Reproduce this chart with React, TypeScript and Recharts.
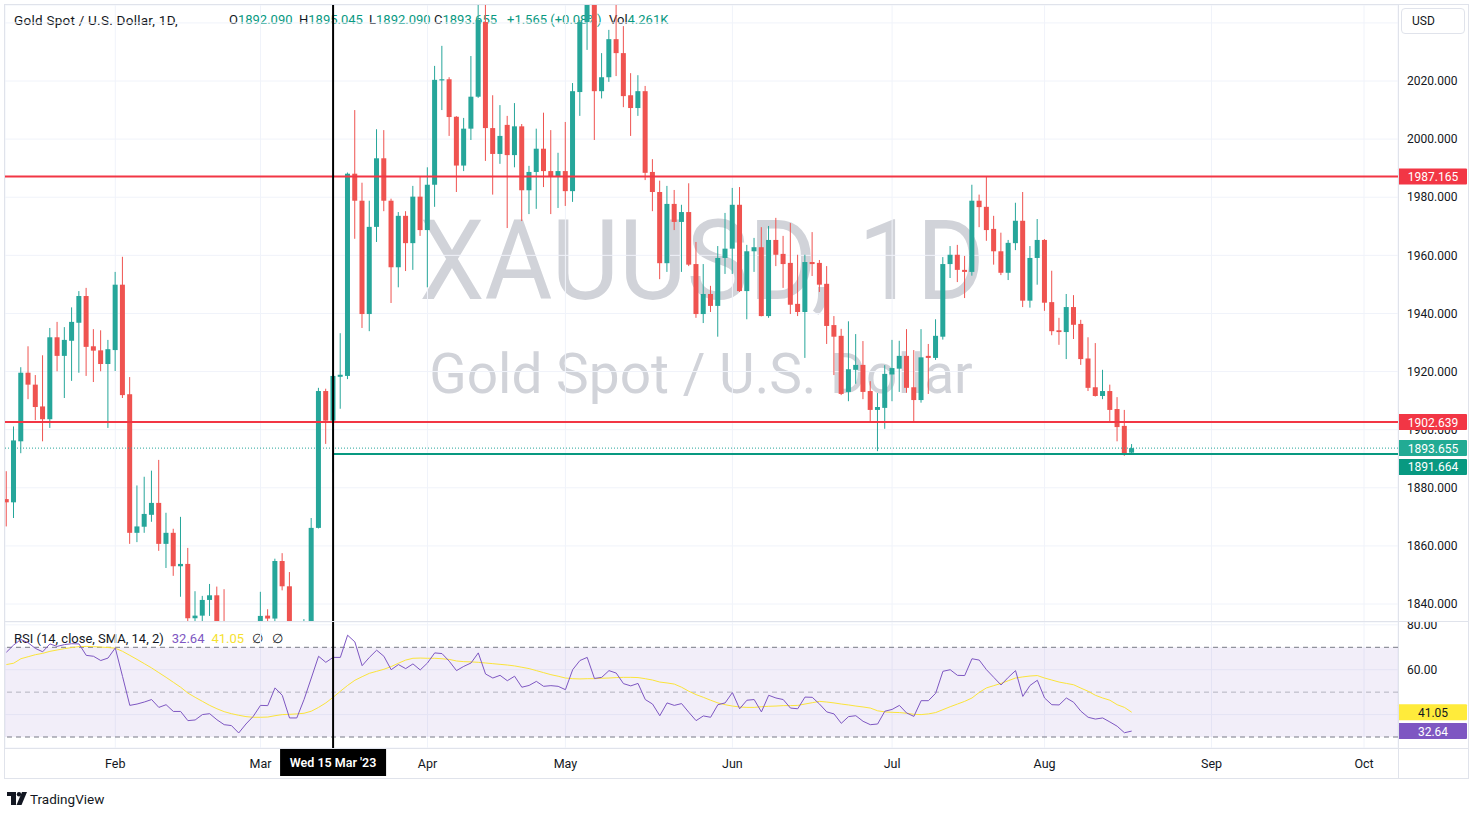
import React from "react";
import {
  ComposedChart,
  Bar,
  Line,
  XAxis,
  YAxis,
  CartesianGrid,
  ReferenceLine,
  ReferenceArea,
} from "recharts";

// daily candles, Jan 11 2023 .. Aug 17 2023 (weekdays), [open, high, low, close]
const candles: [number, number, number, number][] = [
  [1876.1, 1885.7, 1866.7, 1875.0], [1875.0, 1901.1, 1869.6, 1896.3], [1896.0, 1921.5, 1891.9, 1919.6],
  [1919.6, 1928.7, 1910.5, 1915.5], [1915.5, 1918.8, 1903.3, 1907.8], [1908.0, 1925.6, 1896.0, 1903.6],
  [1903.6, 1935.0, 1900.6, 1931.8], [1931.8, 1937.1, 1920.1, 1925.4], [1925.4, 1935.3, 1910.9, 1930.9],
  [1930.6, 1942.1, 1916.8, 1937.1], [1936.8, 1947.7, 1919.6, 1946.0], [1946.0, 1948.8, 1918.5, 1928.5],
  [1928.7, 1934.6, 1916.4, 1927.2], [1927.3, 1934.2, 1920.1, 1922.6], [1922.6, 1930.9, 1900.6, 1927.7],
  [1927.4, 1954.3, 1920.2, 1949.9], [1949.9, 1959.5, 1910.9, 1911.9], [1912.2, 1918.1, 1860.7, 1864.5],
  [1864.5, 1880.8, 1861.3, 1866.7], [1866.6, 1883.8, 1864.5, 1871.0], [1870.7, 1885.9, 1868.3, 1874.8],
  [1874.8, 1889.6, 1858.3, 1860.7], [1860.7, 1871.4, 1852.4, 1864.5], [1864.5, 1865.9, 1849.7, 1853.0],
  [1853.0, 1870.0, 1842.5, 1853.8], [1853.8, 1859.3, 1831.0, 1835.1], [1835.1, 1844.4, 1829.0, 1836.0],
  [1836.0, 1842.8, 1819.7, 1841.4], [1841.4, 1846.9, 1835.9, 1843.0], [1843.0, 1846.0, 1832.0, 1834.0],
  [1834.0, 1845.1, 1818.0, 1825.0], [1825.0, 1828.0, 1817.0, 1823.0], [1823.0, 1827.0, 1809.0, 1811.0],
  [1811.0, 1820.0, 1805.0, 1817.0], [1817.0, 1830.0, 1813.0, 1827.0], [1827.0, 1844.2, 1826.0, 1835.9],
  [1836.0, 1838.2, 1830.0, 1835.0], [1835.0, 1855.6, 1833.5, 1854.8], [1854.8, 1857.5, 1844.7, 1846.1],
  [1846.1, 1851.0, 1812.0, 1813.5], [1813.5, 1822.0, 1809.0, 1814.5], [1814.5, 1834.8, 1810.0, 1831.0],
  [1831.0, 1869.6, 1819.0, 1866.2], [1866.2, 1914.4, 1866.0, 1913.3], [1913.3, 1914.1, 1895.1, 1903.1],
  [1903.1, 1937.5, 1885.2, 1918.5], [1918.2, 1933.2, 1907.2, 1918.9], [1918.5, 1988.5, 1917.4, 1988.1],
  [1988.1, 2010.0, 1965.7, 1978.8], [1978.8, 1985.0, 1935.0, 1939.8], [1939.8, 1978.8, 1933.9, 1969.8],
  [1969.8, 2003.4, 1964.6, 1993.4], [1993.4, 2003.1, 1975.2, 1978.8], [1978.8, 1979.5, 1943.6, 1955.9],
  [1955.9, 1974.9, 1949.0, 1973.6], [1973.6, 1975.2, 1954.6, 1964.2], [1964.2, 1983.9, 1955.0, 1980.2],
  [1980.2, 1987.3, 1966.7, 1968.7], [1968.7, 1990.3, 1949.0, 1984.3], [1984.3, 2025.2, 1976.7, 2020.4],
  [2020.2, 2032.1, 2010.0, 2020.6], [2020.6, 2021.3, 2001.1, 2007.6], [2007.7, 2007.9, 1981.8, 1990.9],
  [1990.9, 2007.3, 1989.0, 2003.6], [2003.6, 2028.6, 1999.7, 2014.6], [2014.6, 2048.0, 2014.2, 2041.0],
  [2040.3, 2048.5, 1992.5, 2003.8], [2003.8, 2015.1, 1980.9, 1994.9], [1994.9, 2011.7, 1991.5, 2001.1],
  [2004.9, 2008.0, 1969.4, 1994.5], [1994.5, 2012.4, 1990.3, 2004.4], [2004.4, 2005.2, 1971.8, 1982.4],
  [1982.4, 1990.8, 1974.2, 1988.7], [1988.7, 2003.6, 1976.0, 1996.7], [1996.7, 2009.1, 1983.5, 1989.0],
  [1989.0, 2003.1, 1974.2, 1987.3], [1987.3, 1995.3, 1976.3, 1989.0], [1989.0, 2005.9, 1977.0, 1982.1],
  [1982.1, 2019.3, 1978.4, 2016.5], [2016.2, 2041.0, 2008.0, 2040.3], [2040.3, 2072.0, 2030.7, 2050.0],
  [2050.0, 2065.0, 1999.7, 2016.5], [2016.5, 2029.6, 2014.0, 2021.3], [2021.3, 2037.6, 2019.7, 2034.4],
  [2034.4, 2048.0, 2021.7, 2029.6], [2029.6, 2038.9, 2011.0, 2014.8], [2015.1, 2022.7, 2001.1, 2010.7],
  [2010.7, 2022.0, 2008.0, 2016.5], [2016.5, 2018.3, 1985.9, 1988.4], [1988.7, 1993.1, 1975.2, 1981.8],
  [1981.8, 1985.7, 1951.8, 1957.3], [1957.3, 1983.9, 1954.3, 1977.7], [1977.7, 1982.5, 1968.7, 1971.5],
  [1971.5, 1977.4, 1954.3, 1974.9], [1974.9, 1984.8, 1956.3, 1956.8], [1957.0, 1964.6, 1938.5, 1939.8],
  [1939.8, 1957.0, 1936.7, 1946.7], [1946.7, 1949.5, 1940.5, 1942.6], [1942.6, 1963.2, 1932.0, 1959.1],
  [1959.1, 1974.6, 1953.6, 1962.3], [1962.3, 1983.2, 1953.6, 1977.4], [1977.4, 1983.5, 1947.4, 1947.7],
  [1947.7, 1963.6, 1938.0, 1961.4], [1961.4, 1966.0, 1954.3, 1962.8], [1962.8, 1969.7, 1939.0, 1939.1],
  [1939.1, 1970.1, 1938.5, 1965.3], [1965.3, 1972.9, 1956.3, 1960.2], [1960.5, 1966.7, 1948.8, 1957.0],
  [1957.4, 1971.1, 1939.8, 1943.0], [1943.3, 1960.2, 1939.1, 1940.5], [1940.5, 1960.2, 1924.7, 1957.7],
  [1957.7, 1968.0, 1952.9, 1957.0], [1957.4, 1958.4, 1947.4, 1949.9], [1950.2, 1956.3, 1929.5, 1935.7],
  [1936.0, 1939.1, 1918.8, 1932.0], [1932.3, 1934.7, 1911.9, 1912.3], [1913.0, 1937.3, 1909.8, 1920.8],
  [1920.6, 1932.9, 1915.8, 1922.3], [1922.3, 1930.5, 1910.5, 1913.0], [1913.3, 1916.7, 1902.4, 1906.8],
  [1906.8, 1912.6, 1892.6, 1907.8], [1907.5, 1922.2, 1900.3, 1919.2], [1919.0, 1930.9, 1909.8, 1921.2],
  [1921.0, 1930.6, 1913.0, 1925.4], [1925.4, 1934.6, 1912.7, 1914.4], [1914.6, 1927.4, 1902.4, 1910.2],
  [1910.2, 1934.6, 1909.3, 1924.9], [1925.4, 1929.5, 1912.3, 1924.7], [1924.7, 1938.0, 1924.0, 1932.3],
  [1932.0, 1959.4, 1931.0, 1957.0], [1957.0, 1963.2, 1952.2, 1960.2], [1960.2, 1963.6, 1950.8, 1955.0],
  [1955.0, 1959.8, 1945.3, 1954.3], [1954.3, 1984.3, 1953.0, 1978.8], [1978.8, 1980.9, 1969.7, 1976.6],
  [1976.7, 1987.3, 1965.0, 1968.7], [1969.1, 1973.6, 1956.8, 1961.4], [1961.4, 1967.8, 1953.2, 1954.0],
  [1954.0, 1965.3, 1951.5, 1964.3], [1964.2, 1978.1, 1961.8, 1971.9], [1971.9, 1981.8, 1942.2, 1944.4],
  [1944.4, 1963.2, 1942.0, 1959.1], [1959.1, 1972.5, 1949.9, 1965.3], [1965.3, 1965.6, 1940.9, 1943.7],
  [1943.9, 1954.7, 1932.5, 1933.9], [1934.2, 1938.5, 1929.2, 1933.6], [1933.6, 1946.7, 1924.3, 1942.2],
  [1942.2, 1946.3, 1931.2, 1936.1], [1936.4, 1937.8, 1922.3, 1924.3], [1924.5, 1931.8, 1913.3, 1914.4],
  [1914.6, 1929.8, 1911.4, 1911.6], [1911.6, 1920.6, 1910.5, 1913.3], [1913.3, 1915.5, 1902.6, 1906.8],
  [1907.1, 1911.2, 1896.0, 1900.9], [1901.3, 1906.8, 1891.0, 1891.66], [1892.09, 1895.045, 1891.9, 1893.655],
];

// RSI(14) per candle
const rsiValues = [
  67.8, 71.0, 73.5, 72.0, 69.5, 68.0, 71.5, 70.4, 71.2, 71.6, 71.5, 66.4, 66.0, 64.1, 65.2, 69.7,
  57.0, 44.1, 44.7, 45.6, 46.7, 43.2, 44.4, 41.4, 41.4, 37.3, 37.6, 40.0, 40.4, 37.7, 35.5, 35.1,
  31.8, 35.8, 39.2, 44.1, 44.0, 51.9, 48.6, 38.5, 38.5, 46.7, 56.3, 66.0, 63.3, 65.5, 65.5, 75.4,
  72.4, 61.8, 65.5, 68.7, 66.0, 60.0, 62.3, 60.5, 62.6, 59.9, 63.0, 67.5, 67.2, 63.8, 59.6, 61.5,
  63.0, 67.5, 58.1, 56.3, 57.5, 55.1, 57.1, 52.2, 53.0, 54.8, 52.6, 52.9, 52.6, 51.1, 60.0, 64.1,
  65.5, 56.1, 56.6, 59.6, 58.5, 53.8, 52.8, 53.9, 46.7, 44.7, 39.5, 45.2, 44.1, 44.9, 41.0, 37.3,
  39.4, 38.8, 44.4, 45.2, 49.8, 42.6, 46.4, 46.7, 41.2, 48.6, 47.4, 46.7, 42.9, 42.6, 47.8, 47.7,
  44.7, 41.2, 40.3, 36.1, 39.1, 39.5, 37.0, 35.5, 35.8, 41.5, 42.3, 44.1, 40.7, 39.2, 46.2, 46.2,
  49.5, 59.3, 60.0, 57.5, 57.4, 64.9, 64.3, 60.0, 56.6, 53.2, 56.6, 59.6, 48.1, 53.0, 55.3, 47.4,
  44.4, 44.3, 47.4, 45.5, 41.5, 38.8, 38.0, 38.5, 36.7, 34.8, 31.9, 32.64,
];

// RSI-based SMA(14)
const rsiMa = [
  62.3, 62.9, 64.9, 65.8, 66.7, 67.3, 68.2, 68.8, 69.4, 69.9, 70.3, 70.4, 70.3, 70.1, 69.9, 69.6,
  68.2, 66.4, 64.6, 62.7, 60.8, 58.7, 56.6, 54.4, 52.2, 49.6, 47.7, 45.9, 44.1, 42.6, 41.3, 40.4,
  39.7, 39.1, 38.8, 38.8, 38.9, 39.5, 40.0, 40.1, 40.3, 40.6, 41.5, 43.2, 45.2, 47.7, 50.4, 53.0,
  55.3, 56.9, 58.4, 59.3, 60.2, 61.4, 62.9, 64.3, 65.1, 65.2, 65.1, 65.1, 64.9, 64.6, 63.9, 63.6,
  63.5, 63.3, 63.0, 62.7, 62.4, 62.1, 61.7, 61.1, 60.5, 59.6, 58.7, 57.8, 57.1, 56.3, 56.0, 55.9,
  56.0, 56.0, 56.2, 56.3, 56.5, 56.6, 56.6, 56.5, 56.0, 55.4, 54.5, 54.1, 53.6, 52.2, 50.4, 48.9,
  47.7, 46.4, 45.2, 44.4, 43.8, 43.4, 43.2, 43.2, 43.5, 43.7, 43.8, 44.0, 44.0, 44.1, 44.7, 45.3,
  45.9, 45.6, 45.2, 44.7, 44.3, 43.8, 43.4, 42.9, 41.7, 41.2, 41.0, 40.9, 40.6, 40.1, 40.0, 40.3,
  40.9, 42.2, 43.5, 44.7, 45.9, 47.4, 49.9, 51.9, 52.9, 53.9, 55.1, 56.3, 56.8, 57.2, 57.4, 56.3,
  55.4, 54.5, 53.9, 53.3, 51.8, 50.4, 48.6, 47.4, 46.4, 44.4, 43.2, 41.05,
];

const monthTickIndex = [15, 35, 58, 77, 100, 122, 143, 166, 187];
const monthTickLabels = ["Feb", "Mar", "Apr", "May", "Jun", "Jul", "Aug", "Sep", "Oct"];
const priceTicks = [1840, 1860, 1880, 1900, 1920, 1940, 1960, 1980, 2000, 2020, 2040];
const rsiTicks = [40, 60, 80];
const resistance = 1987.165;
const support = 1902.639;
const lastPrice = 1893.655;
const anchorLevel = 1891.664;
const lastRsi = 32.64;
const lastRsiMa = 41.05;
const crosshairIndex = 45;
const crosshairLabel = "Wed 15 Mar '23";

const X_DOMAIN: [number, number] = [-0.19, 191.68];
const P_DOMAIN: [number, number] = [1833.81, 2046.16];
const R_DOMAIN: [number, number] = [25.1, 81.28];

const GREEN = "#26a69a";
const RED = "#ef5350";
const TEXT = "#131722";
const GRID = "#f0f3fa";
const BORDER = "#e0e3eb";
const FONT = "Roboto, 'Liberation Sans', sans-serif";

const data = candles.map(([o, h, l, c], i) => ({
  i,
  o,
  h,
  l,
  c,
  range: [l, h],
  rsi: rsiValues[i],
  ma: rsiMa[i],
}));

const Candle = (props: any) => {
  const { x, y, width, height, payload } = props;
  const { o, h, l, c } = payload;
  const top = Math.min(y, y + height);
  const hgt = Math.abs(height);
  const k = hgt / (h - l);
  const cx = x + width / 2;
  const bTop = top + (h - Math.max(o, c)) * k;
  const bBot = top + (h - Math.min(o, c)) * k;
  const color = c >= o ? GREEN : RED;
  return (
    <g>
      <line x1={cx} x2={cx} y1={top} y2={top + hgt} stroke={color} strokeWidth={1} />
      <rect x={cx - 2.5} y={bTop} width={5} height={Math.max(1, bBot - bTop)} fill={color} />
    </g>
  );
};

const PriceTag = (props: any) => {
  const { viewBox, text, bg, color, dy = 0 } = props;
  if (!viewBox) return null;
  const { x, y, width } = viewBox;
  const left = x + width;
  return (
    <g>
      <rect x={left} y={y - 8 + dy} width={69} height={16} fill={bg} rx={1} />
      <text x={left + 35} y={y + 4.5 + dy} fill={color} fontSize={12} textAnchor="middle" fontFamily={FONT}>
        {text}
      </text>
    </g>
  );
};

const CrosshairTag = (props: any) => {
  const { viewBox } = props;
  if (!viewBox) return null;
  const { x, y, height } = viewBox;
  return (
    <g>
      <rect x={x - 53} y={y + height + 1} width={106} height={27} fill="#000" />
      <text x={x} y={y + height + 19} fill="#fff" fontSize={12.5} fontWeight={600} textAnchor="middle" fontFamily={FONT}>
        {crosshairLabel}
      </text>
    </g>
  );
};

const abs = (s: React.CSSProperties): React.CSSProperties => ({ position: "absolute", ...s });

const headerItems: [string, string, number][] = [
  ["O", "1892.090", 229],
  ["H", "1895.045", 299],
  ["L", "1892.090", 369],
  ["C", "1893.655", 434],
  ["", "+1.565 (+0.08%)", 507],
  ["Vol", "4.261K", 609],
];

export default function App() {
  return (
    <div style={abs({ left: 0, top: 0, width: 1481, height: 818, background: "#fff", fontFamily: FONT, color: TEXT, overflow: "hidden" })}>
      {/* watermark */}
      <div style={abs({ left: 702, top: 196, transform: "translateX(-50%) scaleX(0.93)", fontSize: 112, lineHeight: "130px", color: "#d1d3d9", whiteSpace: "nowrap", fontFamily: "Roboto, sans-serif" })}>
        XAUUSD, 1D
      </div>
      <div style={abs({ left: 701, top: 339, transform: "translateX(-50%)", fontSize: 55, lineHeight: "70px", color: "#d1d3d9", whiteSpace: "nowrap", fontFamily: "Roboto, sans-serif" })}>
        Gold Spot / U.S. Dollar
      </div>

      {/* header legend */}
      <div style={abs({ left: 14, top: 12, fontSize: 13.5, letterSpacing: 0.25, lineHeight: "16px", whiteSpace: "nowrap" })}>
        Gold Spot / U.S. Dollar, 1D,
      </div>
      {headerItems.map(([k, v, left]) => (
        <div key={left} style={abs({ left, top: 12, fontSize: 13, lineHeight: "16px", whiteSpace: "nowrap" })}>
          <span style={{ color: TEXT }}>{k}</span>
          <span style={{ color: "#089981" }}>{v}</span>
        </div>
      ))}

      {/* RSI legend */}
      <div style={abs({ left: 14, top: 631, fontSize: 13, lineHeight: "16px", whiteSpace: "nowrap" })}>
        <span>RSI (14, close, SMA, 14, 2)</span>
        <span style={{ color: "#7e57c2", marginLeft: 8 }}>32.64</span>
        <span style={{ color: "#f5e131", marginLeft: 7 }}>41.05</span>
        <span style={{ marginLeft: 8 }}>∅</span>
        <span style={{ marginLeft: 9 }}>∅</span>
      </div>

      {/* price pane */}
      <div style={abs({ left: 0, top: 0 })}>
        <ComposedChart width={1481} height={622} data={data} margin={{ top: 5, right: 13, bottom: 0, left: 5 }}>
          <CartesianGrid stroke={GRID} />
          <XAxis dataKey="i" type="number" domain={X_DOMAIN} ticks={monthTickIndex} allowDataOverflow hide />
          <YAxis
            orientation="right"
            domain={P_DOMAIN}
            ticks={priceTicks}
            allowDataOverflow
            width={70}
            axisLine={false}
            tickLine={false}
            tickSize={6}
            tickMargin={3}
            interval={0}
            tick={{ fill: TEXT, fontSize: 12 }}
            tickFormatter={(v: number) => (v === 2040 ? "" : v.toFixed(3))}
          />
          <ReferenceLine y={lastPrice} stroke={GREEN} strokeDasharray="1 2" strokeWidth={1} />
          <ReferenceLine y={resistance} stroke="#f23645" strokeWidth={2} />
          <ReferenceLine y={support} stroke="#f23645" strokeWidth={2} />
          <ReferenceLine
            segment={[
              { x: crosshairIndex, y: anchorLevel },
              { x: X_DOMAIN[1], y: anchorLevel },
            ]}
            stroke="#089981"
            strokeWidth={2}
          />
          <Bar dataKey="range" shape={Candle} barSize={5} isAnimationActive={false} />
          <ReferenceLine x={crosshairIndex} stroke="#000" strokeWidth={2} />
        </ComposedChart>
      </div>

      {/* price tags overlay (above axis text) */}
      <div style={abs({ left: 0, top: 0, pointerEvents: "none" })}>
        <ComposedChart width={1481} height={622} data={data} margin={{ top: 5, right: 83, bottom: 0, left: 5 }}>
          <XAxis dataKey="i" type="number" domain={X_DOMAIN} allowDataOverflow hide />
          <YAxis domain={P_DOMAIN} allowDataOverflow hide />
          <ReferenceLine y={resistance} stroke="none" label={<PriceTag text="1987.165" bg="#f23645" color="#fff" />} />
          <ReferenceLine y={support} stroke="none" label={<PriceTag text="1902.639" bg="#f23645" color="#fff" />} />
          <ReferenceLine y={lastPrice} stroke="none" label={<PriceTag text="1893.655" bg="#22ab94" color="#fff" />} />
          <ReferenceLine y={anchorLevel} stroke="none" label={<PriceTag text="1891.664" bg="#089981" color="#fff" dy={13} />} />
        </ComposedChart>
      </div>

      {/* RSI pane + time axis */}
      <div style={abs({ left: 0, top: 622 })}>
        <ComposedChart width={1481} height={157} data={data} margin={{ top: 0, right: 13, bottom: 0, left: 5 }}>
          <ReferenceArea y1={30} y2={70} fill="#7e57c2" fillOpacity={0.1} stroke="none" />
          <CartesianGrid stroke={GRID} />
          <XAxis
            dataKey="i"
            type="number"
            domain={X_DOMAIN}
            ticks={monthTickIndex}
            allowDataOverflow
            interval={0}
            height={31}
            axisLine={false}
            tickLine={false}
            tickMargin={5}
            tick={{ fill: TEXT, fontSize: 12.5 }}
            tickFormatter={(v: number) => monthTickLabels[monthTickIndex.indexOf(v)] ?? ""}
          />
          <YAxis
            orientation="right"
            domain={R_DOMAIN}
            ticks={rsiTicks}
            allowDataOverflow
            width={70}
            axisLine={false}
            tickLine={false}
            tickSize={6}
            tickMargin={3}
            interval={0}
            tick={{ fill: TEXT, fontSize: 12 }}
            tickFormatter={(v: number) => (v === 40 ? "" : v.toFixed(2))}
          />
          <ReferenceLine y={70} stroke="#787b86" strokeDasharray="5 4" />
          <ReferenceLine y={50} stroke="#787b86" strokeOpacity={0.5} strokeDasharray="5 4" />
          <ReferenceLine y={30} stroke="#787b86" strokeDasharray="5 4" />
          <Line dataKey="ma" stroke="#fbe43a" strokeWidth={1} dot={false} isAnimationActive={false} />
          <Line dataKey="rsi" stroke="#7e57c2" strokeWidth={1} dot={false} isAnimationActive={false} />
          <ReferenceLine x={crosshairIndex} stroke="#000" strokeWidth={2} label={<CrosshairTag />} />
        </ComposedChart>
      </div>

      {/* RSI tags overlay */}
      <div style={abs({ left: 0, top: 622, pointerEvents: "none" })}>
        <ComposedChart width={1481} height={157} data={data} margin={{ top: 0, right: 83, bottom: 31, left: 5 }}>
          <XAxis dataKey="i" type="number" domain={X_DOMAIN} allowDataOverflow hide />
          <YAxis domain={R_DOMAIN} allowDataOverflow hide />
          <ReferenceLine y={lastRsiMa} stroke="none" label={<PriceTag text="41.05" bg="#ffeb3b" color={TEXT} />} />
          <ReferenceLine y={lastRsi} stroke="none" label={<PriceTag text="32.64" bg="#7e57c2" color="#fff" />} />
        </ComposedChart>
      </div>

      {/* frame */}
      <div style={abs({ left: 4, top: 4, width: 1465, height: 775, border: `1px solid ${BORDER}`, boxSizing: "border-box", pointerEvents: "none" })} />
      <div style={abs({ left: 1398, top: 4, width: 1, height: 775, background: BORDER })} />
      <div style={abs({ left: 4, top: 621, width: 1465, height: 1, background: BORDER })} />
      <div style={abs({ left: 4, top: 748, width: 1465, height: 1, background: BORDER })} />

      {/* currency box */}
      <div style={abs({ left: 1401, top: 8, width: 64, height: 26, border: `1px solid ${BORDER}`, borderRadius: 4, background: "#fff", boxSizing: "border-box", fontSize: 12, lineHeight: "24px", paddingLeft: 10 })}>
        USD
      </div>

      {/* logo */}
      <svg style={abs({ left: 7, top: 792 })} width={20} height={14} viewBox="0 0 20 14">
        <rect x={0} y={0} width={9} height={4} fill={TEXT} />
        <rect x={4} y={4} width={5} height={9} fill={TEXT} />
        <circle cx={12} cy={2.2} r={2.2} fill={TEXT} />
        <polygon points="15,0 20,0 14.5,13 9.5,13" fill={TEXT} />
      </svg>
      <div style={abs({ left: 30, top: 791, fontSize: 13.5, lineHeight: "16px" })}>TradingView</div>
    </div>
  );
}
